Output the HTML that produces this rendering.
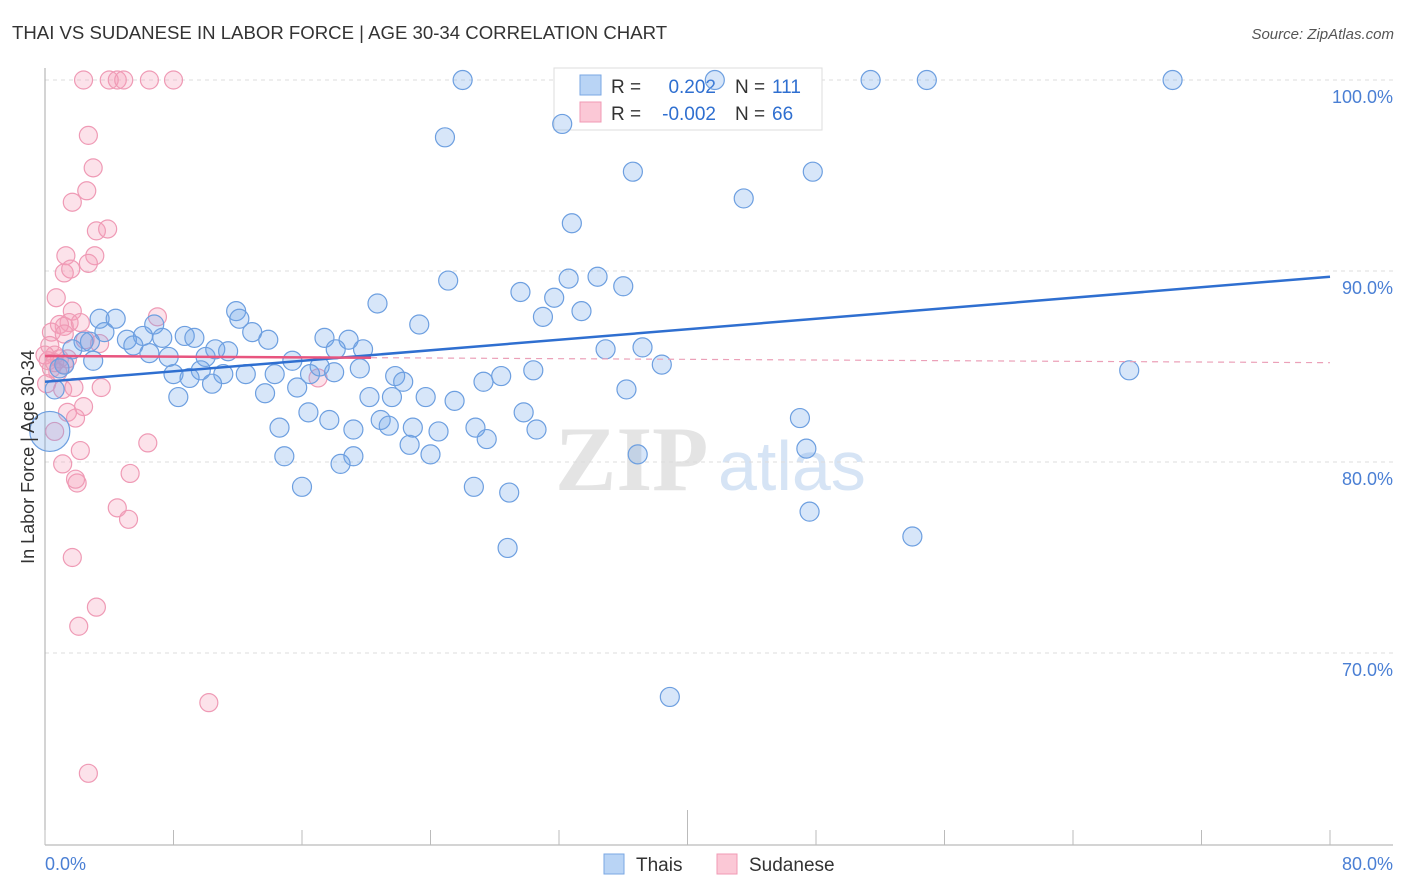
<!DOCTYPE html>
<html><head><meta charset="utf-8"><style>
body{margin:0;background:#fff;font-family:"Liberation Sans",sans-serif;}
svg{display:block}
</style></head><body>
<svg width="1406" height="892">
<text x="12" y="39" font-size="18.6" fill="#333">THAI VS SUDANESE IN LABOR FORCE | AGE 30-34 CORRELATION CHART</text>
<text x="1394" y="39" font-size="15" fill="#555" font-style="italic" text-anchor="end">Source: ZipAtlas.com</text>
<text x="555" y="490" font-size="92" font-family="Liberation Serif,serif" font-weight="bold" fill="#e4e4e4">ZIP</text>
<text x="718" y="490" font-size="70" fill="#d6e4f5">atlas</text>
<g id="grid"></g>
<g id="axes"></g>
<g>
<rect x="554" y="68" width="268" height="62" fill="#fff" stroke="#ddd"/>
<rect x="580" y="75" width="21" height="20" fill="#b9d4f5" stroke="#7aa7e3"/>
<rect x="580" y="102" width="21" height="20" fill="#fbc8d6" stroke="#f09ab4"/>
<text x="611" y="93" font-size="19" fill="#333">R =</text>
<text x="716" y="93" font-size="19" fill="#2f6fd0" text-anchor="end">0.202</text>
<text x="735" y="93" font-size="19" fill="#333">N =</text>
<text x="772" y="93" font-size="19" fill="#2f6fd0">111</text>
<text x="611" y="120" font-size="19" fill="#333">R =</text>
<text x="716" y="120" font-size="19" fill="#2f6fd0" text-anchor="end">-0.002</text>
<text x="735" y="120" font-size="19" fill="#333">N =</text>
<text x="772" y="120" font-size="19" fill="#2f6fd0">66</text>
</g>
<g id="pts"></g>
<g id="trend"></g>
<text transform="translate(34,457) rotate(-90)" font-size="18" fill="#333" text-anchor="middle">In Labor Force | Age 30-34</text>
<text x="45" y="870" font-size="18" fill="#4a7fd4">0.0%</text>
<text x="1393" y="870" font-size="18" fill="#4a7fd4" text-anchor="end">80.0%</text>
<g>
<rect x="604" y="854" width="20" height="20" fill="#b9d4f5" stroke="#7aa7e3"/>
<text x="636" y="871" font-size="19" fill="#333">Thais</text>
<rect x="717" y="854" width="20" height="20" fill="#fbc8d6" stroke="#f09ab4"/>
<text x="749" y="871" font-size="19" fill="#333">Sudanese</text>
</g>
</svg>
<script>
const yTicks=[100,90,80,70];
const yTickLabels=["100.0%","90.0%","80.0%","70.0%"];
const xTicks=[0,8,16,24,32,40,48,56,64,72,80];
const thaiX=[26.0,41.7,51.4,54.9,70.2,32.2,24.9,36.6,47.8,43.5,32.8,25.1,32.6,34.4,36.0,29.6,31.7,20.7,33.4,31.0,23.3,11.9,12.1,3.4,4.4,3.7,12.9,13.9,17.4,18.9,8.7,9.3,6.8,6.1,7.3,5.1,5.5,2.4,2.8,1.7,3.0,1.2,6.5,7.7,10.0,10.6,11.4,34.9,37.2,38.4,15.4,18.1,19.8,9.7,8.0,9.0,11.1,12.5,14.3,16.5,17.1,18.0,19.6,21.8,22.3,27.3,28.4,30.4,10.4,13.7,15.7,8.3,20.2,21.6,23.7,25.5,36.2,16.4,17.7,20.9,21.4,22.9,24.5,26.8,27.5,29.8,30.6,14.6,19.2,22.7,24.0,36.9,47.0,47.4,14.9,18.4,16.0,26.7,28.9,47.6,28.8,54.0,38.9,67.5,0.3,0.6,0.9,19.2];
const thaiY=[100,100,100,100,100,97.7,97.0,95.2,95.2,93.8,92.5,89.5,89.6,89.7,89.2,88.9,88.6,88.3,87.9,87.6,87.2,87.9,87.5,87.5,87.5,86.8,86.8,86.4,86.5,86.4,86.6,86.5,87.2,86.6,86.5,86.4,86.1,86.3,86.3,85.9,85.3,85.1,85.7,85.5,85.5,85.9,85.8,85.9,86.0,85.1,85.3,85.9,85.9,84.8,84.6,84.4,84.6,84.6,84.6,84.6,85.0,84.7,84.9,84.5,84.2,84.2,84.5,84.8,84.1,83.6,83.9,83.4,83.4,83.4,83.4,83.2,83.8,82.6,82.2,82.2,81.9,81.8,81.6,81.8,81.2,82.6,81.7,81.8,81.7,80.9,80.4,80.4,82.3,80.7,80.3,79.9,78.7,78.7,78.4,77.4,75.5,76.1,67.7,84.8,81.6,83.8,84.9,80.3];
const sudX=[2.4,4.0,4.5,4.9,6.5,8.0,2.7,3.0,2.6,1.7,3.2,3.9,1.3,3.1,2.7,1.2,1.6,0.7,1.7,1.5,1.2,0.9,0.4,1.2,2.2,2.5,7.0,0.3,0.6,0.2,0.4,0.9,1.2,0.8,0.1,1.1,1.8,3.5,17.0,1.4,2.4,1.9,0.6,2.2,6.4,1.1,5.3,2.0,1.9,4.5,5.2,1.7,3.2,2.1,10.2,2.7,3.4,0.0,0.6,1.4];
const sudY=[100,100,100,100,100,100,97.1,95.4,94.2,93.6,92.1,92.2,90.8,90.8,90.4,89.9,90.1,88.6,87.9,87.3,87.1,87.2,86.8,86.7,87.3,86.4,87.6,86.1,85.6,85.3,84.9,85.4,85.1,84.7,84.1,83.8,83.9,83.9,84.4,82.6,82.9,82.3,81.6,80.6,81.0,79.9,79.4,78.9,79.1,77.6,77.0,75.0,72.4,71.4,67.4,63.7,86.2,85.6,85.2,85.4];
const thaiTrend=[84.2,89.7];
const sudTrend=[85.55,85.2];
const NS="http://www.w3.org/2000/svg";
const sx=v=>45+v*16.0625, sy=v=>80+(100-v)*19.1;
function mk(p,t,a){const e=document.createElementNS(NS,t);for(const k in a)e.setAttribute(k,a[k]);p.appendChild(e);return e;}
const grid=document.getElementById('grid'),axes=document.getElementById('axes'),pts=document.getElementById('pts'),tr=document.getElementById('trend');
yTicks.forEach((v,i)=>{
 const l=mk(grid,'line',{x1:45,x2:1393,y1:sy(v),y2:sy(v),stroke:'#ddd','stroke-dasharray':'4,4'});
 
 
 const t=mk(grid,'text',{x:1393,y:sy(v)+23,'font-size':18,fill:'#4a7fd4','text-anchor':'end'});
 t.textContent=yTickLabels[i];
 
 
});
let a=mk(axes,'line',{x1:45,x2:45,y1:68,y2:845,stroke:'#aaa'});


a=mk(axes,'line',{x1:45,x2:1393,y1:845,y2:845,stroke:'#aaa'});


xTicks.forEach(v=>{
 const l=mk(axes,'line',{x1:sx(v),x2:sx(v),y1:v===40?810:830,y2:845,stroke:'#bbb'});
 
 
});
sudX.forEach((x,i)=>{
 const c=mk(pts,'circle',{cx:sx(x),cy:sy(sudY[i]),r:9,fill:'rgba(244,160,186,0.3)',stroke:'#ef9ab5','stroke-width':1.2});
 
 
});
thaiX.forEach((x,i)=>{
 const c=mk(pts,'circle',{cx:sx(x),cy:sy(thaiY[i]),r:(i===104?20:9.5),fill:'rgba(110,165,235,0.28)',stroke:'#6d9fe0','stroke-width':1.2});
 
 
});
let ln=mk(tr,'line',{x1:sx(0),y1:sy(thaiTrend[0]),x2:sx(80),y2:sy(thaiTrend[1]),stroke:'#2f6fd0','stroke-width':2.5});


const sAt=x=>sudTrend[0]+(sudTrend[1]-sudTrend[0])*x/80;
ln=mk(tr,'line',{x1:sx(0),y1:sy(sAt(0)),x2:sx(20.3),y2:sy(sAt(20.3)),stroke:'#e8557f','stroke-width':2.5});


ln=mk(tr,'line',{x1:sx(20.3),y1:sy(sAt(20.3)),x2:sx(80),y2:sy(sAt(80)),stroke:'#eba0b8','stroke-width':1.2,'stroke-dasharray':'6,5'});


</script>
</body></html>
